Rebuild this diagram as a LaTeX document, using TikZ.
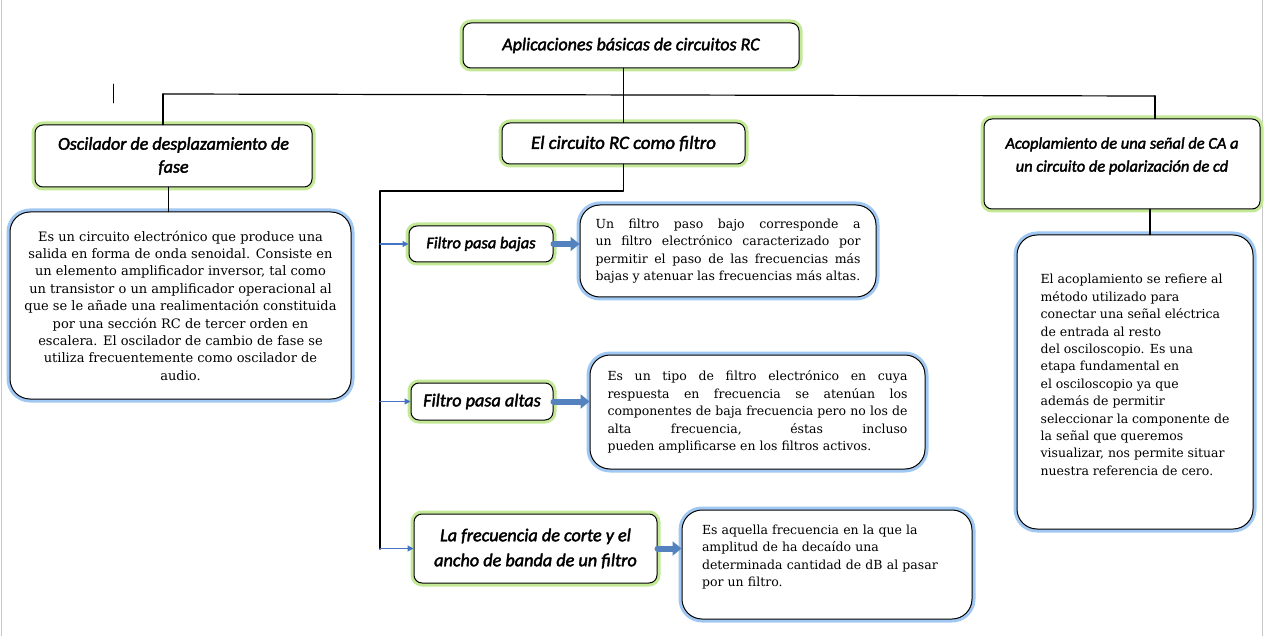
\documentclass[tikz,border=0pt]{standalone}
\usepackage{fontspec}
\setmainfont{DejaVu Serif}
\newfontfamily\headfont{Carlito}[FakeBold=2.2]
\usetikzlibrary{arrows.meta}
\definecolor{glowgreen}{RGB}{195,232,150}
\definecolor{glowblue}{RGB}{160,200,242}
\definecolor{linkblue}{RGB}{68,114,196}
\definecolor{fatblue}{RGB}{84,130,190}
\definecolor{edgegray}{RGB}{200,200,200}
\begin{document}
\begin{tikzpicture}[x=1pt, y=-1pt, line cap=round, line join=round,
  headbox/.style={rectangle, rounded corners=8pt, draw=black, line width=1pt, fill=white,
    preaction={draw=glowgreen, line width=7pt}, inner sep=0pt, align=center,
    font=\headfont\itshape\fontsize{#1}{23}\selectfont},
  headbox/.default=18,
  descbox/.style={rectangle, rounded corners=20pt, draw=black, line width=1pt, fill=white,
    preaction={draw=glowblue, line width=7pt}, inner sep=0pt,
    font=\fontsize{#1}{17.4}\selectfont},
  descbox/.default=12.5,
  link/.style={line width=1.6pt},
  tolink/.style={draw=linkblue, line width=1.2pt, -{Triangle[length=6pt, width=6pt]}},
  fatarrow/.style={draw=fatblue, line width=6pt, -{Triangle[length=9pt, width=14pt]}}]
  \useasboundingbox (0,0) rectangle (1266,636);
  \draw[edgegray] (1,0) -- (1,636);
  \draw[edgegray] (1262,0) -- (1262,636);
  \draw[line width=0.8pt] (113,84) -- (113,103);
  % Top level
  \node[headbox, minimum width=336pt, minimum height=45pt] (title) at (631,45.5) {Aplicaciones básicas de circuitos RC};
  % Second level
  \node[headbox, minimum width=277pt, minimum height=62pt] (osc) at (173.5,156) {Oscilador de desplazamiento de\\fase};
  \node[headbox=18.8, minimum width=243pt, minimum height=41pt] (filtro) at (623.5,143.5) {El circuito RC como filtro};
  \node[headbox=16.4, minimum width=276pt, minimum height=90pt] (acop) at (1122,164) {Acoplamiento de una señal de CA a\\un circuito de polarización de cd\\[-4pt]\mbox{}};
  % Descriptions of the second level
  \node[descbox=13, minimum width=341pt, minimum height=187pt, align=center] (osc-desc) at (180.5,305.5) {Es un circuito electrónico que produce una\\salida en forma de onda senoidal. Consiste en\\un elemento amplificador inversor, tal como\\un transistor o un amplificador operacional al\\que se le añade una realimentación constituida\\por una sección RC de tercer orden en\\escalera. El oscilador de cambio de fase se\\utiliza frecuentemente como oscilador de\\audio.};
  \node[descbox, minimum width=236pt, minimum height=294pt, align=left] (acop-desc) at (1135,382) {El acoplamiento se refiere al\\método utilizado para\\conectar una señal eléctrica\\de entrada al resto\\del osciloscopio. Es una\\etapa fundamental en\\el osciloscopio ya que\\además de permitir\\seleccionar la componente de\\la señal que queremos\\visualizar, nos permite situar\\nuestra referencia de cero.\\[-3pt]\mbox{}};
  % Filters
  \node[headbox=16.4, minimum width=144pt, minimum height=36pt] (filtro-1) at (481,244) {Filtro pasa bajas};
  \node[headbox=18.2, minimum width=142pt, minimum height=37pt] (filtro-2) at (482,401.5) {Filtro pasa altas};
  \node[headbox=18.2, minimum width=243pt, minimum height=69pt] (filtro-3) at (535.5,548.5) {La frecuencia de corte y el\\[2pt]ancho de banda de un filtro};
  % Descriptions of the filters
  \node[descbox, minimum width=296pt, minimum height=92pt, align=left] (desc-1) at (728,251) {\makebox[265pt][s]{Un filtro paso bajo corresponde a}\\\makebox[265pt][s]{un filtro electrónico caracterizado por}\\\makebox[265pt][s]{permitir el paso de las frecuencias más}\\bajas y atenuar las frecuencias más altas.};
  \node[descbox, minimum width=335pt, minimum height=114pt, align=left] (desc-2) at (757.5,412) {\makebox[300pt][s]{Es un tipo de filtro electrónico en cuya}\\\makebox[300pt][s]{respuesta en frecuencia se atenúan los}\\\makebox[300pt][s]{componentes de baja frecuencia pero no los de}\\\makebox[300pt][s]{alta frecuencia, éstas incluso}\\pueden amplificarse en los filtros activos.};
  \node[descbox, minimum width=290pt, minimum height=109pt, text width=250pt, align=left] (desc-3) at (827,564.5) {Es aquella frecuencia en la que la\\amplitud de ha decaído una\\determinada cantidad de dB al pasar\\por un filtro.\\\mbox{}};
  % Tree lines
  \coordinate (bus-left) at (163,94);
  \coordinate (bus-right) at (1155,96);
  \coordinate (trunk-top) at (380,191);
  \coordinate (trunk-bottom) at (380,549);
  \draw[link] (title.south -| filtro.north) -- (filtro.north);
  \draw[line width=1.2pt] (bus-left) -- (bus-right);
  \draw[link] (bus-left) -- (bus-left |- osc.north);
  \draw[link] (bus-right) -- (bus-right |- acop.north);
  \draw[link] ([xshift=-5pt]osc.south) -- ([xshift=-5pt]osc.south |- osc-desc.north);
  \draw[link] ([xshift=28pt]acop.south) -- ([xshift=28pt]acop.south |- acop-desc.north);
  \draw[link] (filtro.south) |- (trunk-top) -- (trunk-bottom);
  % Arrows to the filters
  \foreach \a in {1, 2, 3}
    \draw[tolink] (trunk-top |- filtro-\a.west) -- (filtro-\a.west);
  \foreach \a in {1, 2, 3}
    \draw[fatarrow] (filtro-\a.east) -- (desc-\a.west |- filtro-\a.east);
\end{tikzpicture}
\end{document}
